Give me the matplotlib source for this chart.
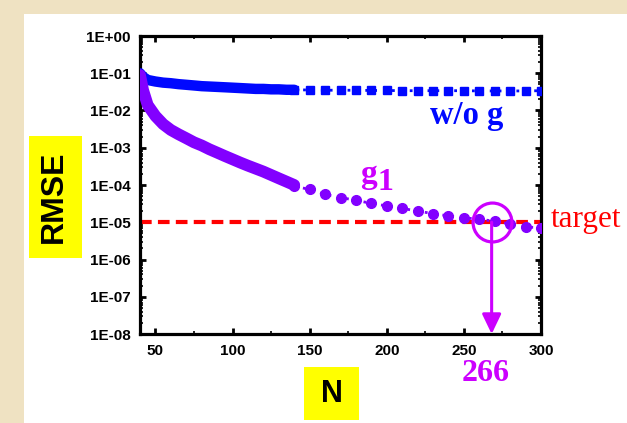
import matplotlib
matplotlib.use("Agg")
import matplotlib.pyplot as plt
from matplotlib.patches import Rectangle
from matplotlib.ticker import MultipleLocator, LogLocator, NullFormatter

# ---------------- data ----------------
# dense part (N = 40..140) of each curve
n_dense = [40, 42, 45, 50, 55, 60, 65, 70, 75, 80, 85, 90, 95, 100,
           105, 110, 115, 120, 125, 130, 135, 140]
wog_dense = [0.100, 0.080, 0.066, 0.060, 0.056, 0.054, 0.051, 0.049, 0.047, 0.045, 0.044,
             0.043, 0.042, 0.041, 0.040, 0.039, 0.038, 0.038, 0.037, 0.037, 0.036, 0.036]
g1_dense = [0.089, 0.035, 0.014, 0.0071, 0.0043, 0.0030, 0.0023, 0.0018, 0.0014, 0.00115,
            0.00091, 0.00074, 0.00060, 0.00049, 0.00040, 0.00033, 0.000275, 0.000229,
            0.000186, 0.000151, 0.000123, 0.000100]

# sparse part (N = 140..300, every 10)
n_sparse = [140, 150, 160, 170, 180, 190, 200, 210, 220, 230, 240, 250, 260, 270, 280, 290, 300]
wog_sparse = [0.0360, 0.0355, 0.0350, 0.0350, 0.0350, 0.0345, 0.0345, 0.0340, 0.0340,
              0.0340, 0.0340, 0.0340, 0.0335, 0.0335, 0.0335, 0.0335, 0.0340]
g1_sparse = [9.3e-5, 7.6e-5, 5.6e-5, 4.6e-5, 3.9e-5, 3.2e-5, 2.75e-5, 2.35e-5, 2.0e-5,
             1.7e-5, 1.48e-5, 1.32e-5, 1.2e-5, 1.07e-5, 8.9e-6, 7.4e-6, 7.2e-6]

target_value = 1e-5
target_range = [40, 300]
crossing_n = 268          # where the arrow points on the x axis
crossing_label = "266"

x_ticks = [50, 100, 150, 200, 250, 300]
y_ticks = [1e-8, 1e-7, 1e-6, 1e-5, 1e-4, 1e-3, 1e-2, 1e-1, 1e0]
y_tick_labels = ["1E-08", "1E-07", "1E-06", "1E-05", "1E-04", "1E-03", "1E-02", "1E-01", "1E+00"]

# ---------------- styling ----------------
W, H = 627, 423
BLUE = "#0008ff"
PURPLE = "#8200ff"
MAGENTA = "#cc00ff"
RED = "#ff0000"
BEIGE = "#efe2c2"

def fx(px):
    return px / W

def fy(py):
    return (H - py) / H

fig = plt.figure(figsize=(W / 100, H / 100), dpi=100, facecolor=BEIGE)
fig.patches.append(Rectangle((fx(24), 0), 1, fy(14), transform=fig.transFigure,
                             facecolor="white", edgecolor="none", zorder=-10))

L, R, T, B = 140, 541, 36, 334
ax = fig.add_axes([fx(L), fy(B), (R - L) / W, (B - T) / H])
ax.set_zorder(2)
ax.set_yscale("log")
ax.set_xlim(40, 300)
ax.set_ylim(1e-8, 1)

# curves
ax.plot(n_dense, wog_dense, color=BLUE, lw=7.5, solid_capstyle="round",
        solid_joinstyle="round", zorder=3)
ax.plot(n_sparse, wog_sparse, color=BLUE, lw=2.0, ls=(0, (1, 2.2)), marker="s", ms=6.3,
        mec=BLUE, mfc=BLUE, zorder=3)
ax.plot(n_dense, g1_dense, color=PURPLE, lw=8.5, solid_capstyle="round",
        solid_joinstyle="round", zorder=4)
ax.plot(n_sparse, g1_sparse, color=PURPLE, lw=2.0, ls=(0, (1, 2.2)), marker="o", ms=7,
        mec=PURPLE, mfc=PURPLE, zorder=4)

# target line
ax.plot(target_range, [target_value, target_value], color=RED, lw=3,
        ls=(0, (2.8, 1.5)), zorder=2)

# circle + arrow
ax.plot([crossing_n], [target_value], marker="o", ms=28, mfc="none", mec=MAGENTA,
        mew=2.3, zorder=6, clip_on=False)
ax.annotate("", xy=(crossing_n, 1e-8), xytext=(crossing_n, target_value),
            arrowprops=dict(arrowstyle="-|>,head_length=0.5,head_width=0.24",
                            color=MAGENTA, lw=2.2,
                            mutation_scale=24, shrinkA=0, shrinkB=0),
            zorder=6)

# axes styling
for s in ax.spines.values():
    s.set_linewidth(2.3)
ax.set_xticks(x_ticks)
ax.set_xticklabels([str(v) for v in x_ticks])
ax.xaxis.set_minor_locator(MultipleLocator(25))
ax.set_yticks(y_ticks)
ax.set_yticklabels(y_tick_labels)
ax.yaxis.set_minor_locator(LogLocator(base=10, subs=[2, 3, 4, 5, 6, 7, 8, 9], numticks=20))
ax.yaxis.set_minor_formatter(NullFormatter())
ax.tick_params(which="major", direction="in", length=4.5, width=2, top=True, right=True,
               labelsize=11, pad=7)
ax.tick_params(which="minor", direction="in", length=2.2, width=1.2, top=True, right=True)
for lab in ax.get_xticklabels() + ax.get_yticklabels():
    lab.set_fontfamily("Liberation Sans")
    lab.set_fontweight("bold")

# yellow label boxes
fig.patches.append(Rectangle((fx(29), fy(258)), (82 - 29) / W, (258 - 136) / H,
                             transform=fig.transFigure, facecolor="#ffff00",
                             edgecolor="none", zorder=1))
fig.patches.append(Rectangle((fx(304), fy(420)), (359 - 304) / W, (420 - 367) / H,
                             transform=fig.transFigure, facecolor="#ffff00",
                             edgecolor="none", zorder=1))
fig.text(fx(54), fy(197), "RMSE", rotation=90, ha="center", va="center",
         fontsize=23, fontweight="bold", family="Liberation Sans", zorder=5)
fig.text(fx(331.5), fy(393.5), "N", ha="center", va="center",
         fontsize=22, fontweight="bold", family="Liberation Sans", zorder=5)

# annotations
fig.text(fx(467), fy(124), "w/o g", ha="center", va="baseline", color=BLUE,
         fontsize=23.5, fontweight="bold", family="Liberation Serif", zorder=5)
fig.text(fx(360), fy(183), "g", ha="left", va="baseline", color=MAGENTA,
         fontsize=24, fontweight="bold", family="Liberation Serif", zorder=5)
fig.text(fx(377), fy(190), "1", ha="left", va="baseline", color=MAGENTA,
         fontsize=23, fontweight="bold", family="Liberation Serif", zorder=5)
fig.text(fx(551), fy(227), "target", ha="left", va="baseline", color=RED,
         fontsize=22.5, family="Liberation Serif", zorder=5)
fig.text(fx(486), fy(381), crossing_label, ha="center", va="baseline", color=MAGENTA,
         fontsize=23, fontweight="bold", family="Liberation Serif", zorder=5)

fig.savefig("out.png", dpi=100, facecolor=fig.get_facecolor())
